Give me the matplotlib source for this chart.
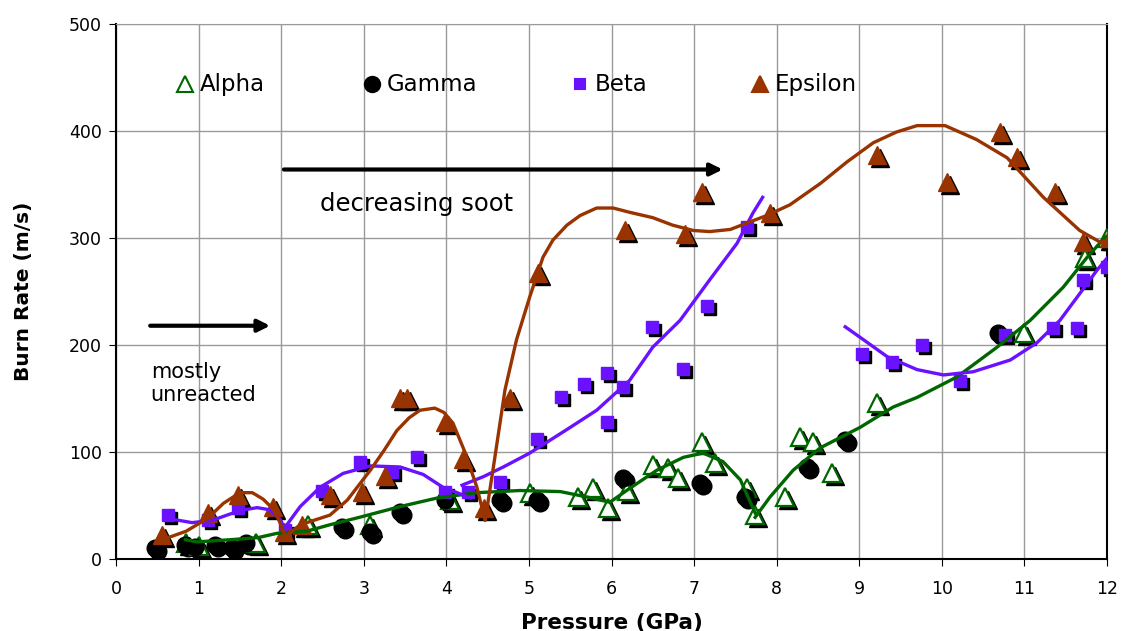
"""Burn rate vs pressure for the four phases."""

import numpy as np
import matplotlib

matplotlib.use("Agg")
import matplotlib.pyplot as plt
from matplotlib.transforms import offset_copy

# measured points, (pressure GPa, burn rate m/s)
alpha_x = [0.85, 1.0, 1.7, 2.32, 3.08, 4.05, 5.01, 5.6, 5.78, 5.96, 6.19, 6.5, 6.69, 6.8,
           7.1, 7.25, 7.64, 7.74, 8.1, 8.28, 8.44, 8.67, 9.21, 11.0, 11.73, 12.0]
alpha_y = [15, 12, 15, 32, 32, 55, 62, 58, 66, 48, 64, 88, 85, 76,
           109, 90, 66, 41, 58, 114, 109, 80, 146, 211, 281, 300]

gamma_x = [0.47, 0.84, 0.96, 1.2, 1.41, 1.57, 2.74, 3.08, 3.44, 3.98, 4.65, 5.1, 6.14,
           7.07, 7.62, 8.37, 8.83, 10.68]
gamma_y = [10, 13, 11, 13, 10, 15, 30, 25, 44, 55, 55, 55, 76,
           71, 58, 86, 111, 211]

beta_x = [0.63, 1.11, 1.48, 2.05, 2.5, 2.95, 3.34, 3.64, 3.98, 4.26, 4.65, 5.1, 5.39, 5.67,
          5.95, 5.94, 6.14, 6.49, 6.87, 7.16, 7.64, 9.03, 9.4, 9.76, 10.22, 10.77, 11.35,
          11.64, 11.71, 12.0]
beta_y = [41, 36, 48, 27, 64, 91, 81, 95, 63, 63, 72, 112, 151, 164,
          128, 174, 161, 217, 178, 236, 310, 192, 184, 200, 166, 209, 216,
          216, 261, 273]

epsilon_x = [0.56, 1.11, 1.48, 1.9, 2.03, 2.25, 2.59, 2.98, 3.26, 3.44, 3.52, 3.98, 4.2,
             4.45, 4.77, 5.11, 6.16, 6.89, 7.1, 7.92, 9.21, 10.06, 10.7, 10.91, 11.37,
             11.71, 12.03]
epsilon_y = [22, 43, 60, 49, 25, 32, 60, 63, 78, 150, 150, 128, 93,
             48, 150, 267, 307, 304, 343, 323, 378, 352, 399, 376, 343,
             296, 300]

# trend curves (nan = gap between fitted pieces)
alpha_fit_x = [0.84, 0.98, 1.38, 1.72, 1.95, 2.31, 2.59, 2.95, 3.44, 3.89, 4.37, 4.89, 5.38,
               5.7, 5.98, 6.22, 6.55, 6.87, 7.11, 7.35, 7.56, 7.74, np.nan,
               7.74, 7.92, 8.2, 8.53, 9.01, 9.41, 9.7, 10.18, 10.67, 11.07, 11.47, 11.76, 11.98]
alpha_fit_y = [18, 16, 18, 20, 24, 26, 32, 39, 49, 57, 62, 64, 63,
               58, 53, 66, 83, 95, 99, 91, 74, 43, np.nan,
               39, 58, 83, 104, 123, 142, 151, 170, 198, 223, 254, 282, 301]

beta_fit_x = [0.62, 0.92, 1.16, 1.38, 1.55, 1.71, 1.86, 1.99, 2.05, np.nan,
              2.05, 2.23, 2.47, 2.75, 3.08, 3.44, 3.72, 3.96, 4.13, 4.29, np.nan,
              4.19, 4.45, 4.69, 5.01, 5.46, 5.82, 6.22, 6.5, 6.83, 7.19, 7.52, 7.71, 7.83, np.nan,
              8.83, 9.05, 9.34, 9.7, 10.02, 10.38, 10.83, 11.15, 11.43, 11.67, 11.88, 12.01]
beta_fit_y = [38, 34, 36, 42, 46, 48, 46, 37, 27, np.nan,
              30, 49, 67, 80, 87, 86, 79, 67, 62, 57, np.nan,
              69, 77, 86, 99, 121, 139, 167, 198, 223, 261, 295, 323, 338, np.nan,
              217, 205, 189, 177, 172, 175, 186, 202, 223, 248, 270, 282]

epsilon_fit_x = [0.56, 0.85, 1.11, 1.3, 1.5, 1.65, 1.78, 1.9, 1.98, 2.05, 2.23, 2.59, 2.8,
                 3.08, 3.25, 3.4, 3.55, 3.68, 3.86, 3.97, 4.08, 4.23, 4.37, 4.47, 4.57, 4.71,
                 4.85, 5.01, 5.17, 5.29, 5.46, 5.62, 5.82, 6.02, 6.22, 6.5, 6.74, 6.99, 7.19,
                 7.44, 7.64, 7.88, 8.16, 8.53, 8.85, 9.17, 9.45, 9.7, 10.04, 10.42, 10.79,
                 11.23, 11.67, 11.92, 12.0]
epsilon_fit_y = [18, 26, 38, 52, 62, 62, 56, 47, 35, 21, 32, 41, 55,
                 83, 102, 120, 132, 139, 141, 137, 127, 99, 67, 36, 86, 158,
                 205, 245, 282, 298, 312, 321, 328, 328, 324, 319, 312, 307, 306,
                 308, 314, 321, 331, 351, 371, 389, 399, 405, 405, 392, 375,
                 338, 307, 296, 298]

GREEN = "#006600"
BLACK = "#000000"
PURPLE = "#6a11ff"
BROWN = "#993300"

plt.rcParams["font.family"] = ["DejaVu Sans"]

fig = plt.figure(figsize=(11.21, 6.31), dpi=100)
ax = fig.add_axes([0.1035, 0.1141, 0.8840, 0.8479])
shadow = offset_copy(ax.transData, fig=fig, x=3, y=-3, units="dots")

# shadows first
ax.plot(alpha_x, alpha_y, "^", ms=13, color=BLACK, transform=shadow, zorder=2)
ax.plot(gamma_x, gamma_y, "o", ms=12, color=BLACK, transform=shadow, zorder=2)
ax.plot(beta_x, beta_y, "s", ms=8.5, color=BLACK, transform=shadow, zorder=2)
ax.plot(epsilon_x, epsilon_y, "^", ms=13, color=BLACK, transform=shadow, zorder=2)

ax.plot(alpha_x, alpha_y, "^", ms=13, mfc="white", mec=GREEN, mew=1.6, ls="none", zorder=3)
ax.plot(gamma_x, gamma_y, "o", ms=12, color=BLACK, ls="none", zorder=3)
ax.plot(beta_x, beta_y, "s", ms=8.5, color=PURPLE, ls="none", zorder=3)
ax.plot(epsilon_x, epsilon_y, "^", ms=13, color=BROWN, ls="none", zorder=3)

ax.plot(alpha_fit_x, alpha_fit_y, color=GREEN, lw=2.4, zorder=4)
ax.plot(beta_fit_x, beta_fit_y, color=PURPLE, lw=2.4, zorder=4)
ax.plot(epsilon_fit_x, epsilon_fit_y, color=BROWN, lw=2.4, zorder=4)

# legend row drawn inside the plot
legend_items = [("Alpha", "^", "white", GREEN, 0.0696),
                ("Gamma", "o", BLACK, BLACK, 0.258),
                ("Beta", "s", PURPLE, PURPLE, 0.468),
                ("Epsilon", "^", BROWN, BROWN, 0.650)]
for name, mk, fc, ec, xa in legend_items:
    ax.plot([xa], [0.888], mk, ms=11 if mk != "s" else 7, mfc=fc, mec=ec, mew=1.5,
            transform=ax.transAxes, zorder=5, clip_on=False)
    ax.text(xa + 0.015, 0.886, name, transform=ax.transAxes, fontsize=16.5,
            va="center", ha="left", zorder=5)

# annotations
ax.annotate("", xy=(1.9, 218), xytext=(0.38, 218),
            arrowprops=dict(arrowstyle="-|>", color="black", lw=3, mutation_scale=18))
ax.text(0.42, 184, "mostly\nunreacted", fontsize=15, ha="left", va="top", linespacing=1.2)
ax.annotate("", xy=(7.38, 364), xytext=(2.0, 364),
            arrowprops=dict(arrowstyle="-|>", color="black", lw=3, mutation_scale=18))
ax.text(2.47, 332, "decreasing soot", fontsize=17.5, ha="left", va="center")

ax.set_xlim(0, 12)
ax.set_ylim(0, 500)
ax.set_xticks(range(0, 13))
ax.set_yticks(range(0, 501, 100))
ax.tick_params(labelsize=12.5, length=5, direction="out")
ax.tick_params(axis="x", pad=10)
ax.tick_params(axis="y", pad=5)
ax.grid(True, color="#9a9a9a", lw=1)
ax.set_axisbelow(True)
for side in ("left", "bottom", "right"):
    ax.spines[side].set_color("black")
    ax.spines[side].set_linewidth(1.5)
ax.spines["top"].set_color("#9a9a9a")

ax.set_xlabel("Pressure (GPa)", fontsize=15.5, fontweight="bold", labelpad=11)
ax.set_ylabel("Burn Rate (m/s)", fontsize=14.5, fontweight="bold", labelpad=26)

fig.savefig("out.png", dpi=100)
